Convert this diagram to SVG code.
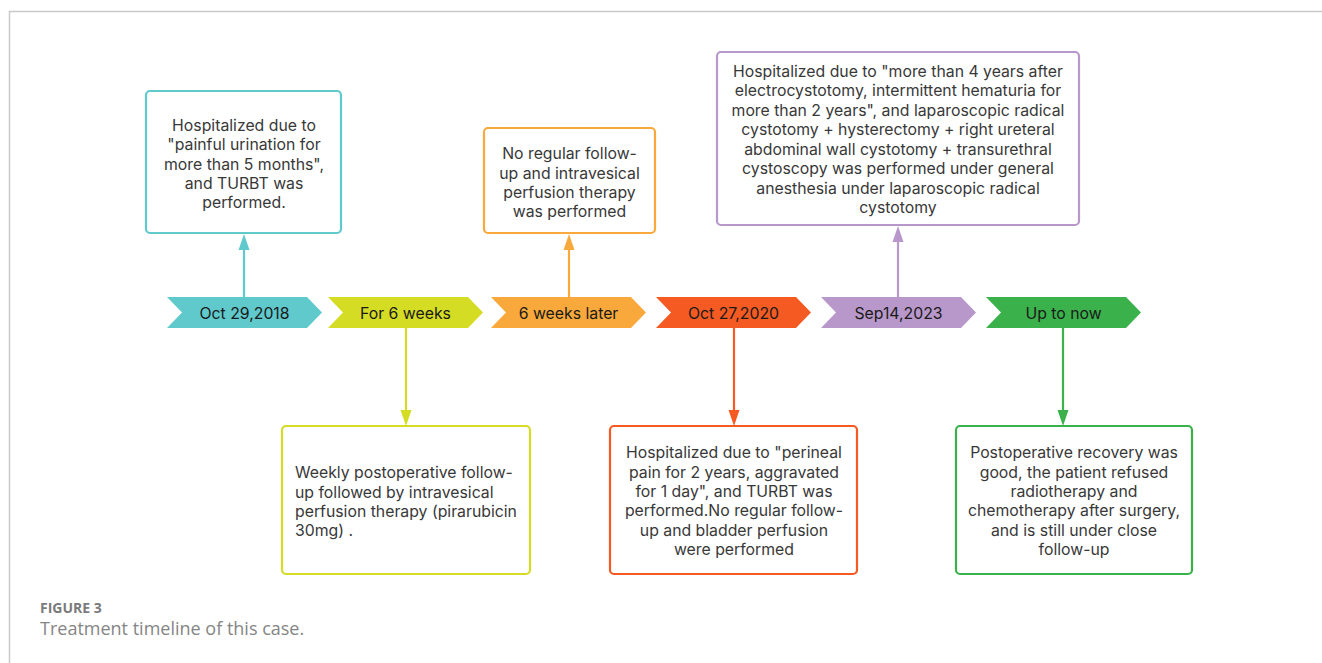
<svg xmlns="http://www.w3.org/2000/svg" width="1322" height="663" viewBox="0 0 1322 663">
<defs>
<style>
.frame{fill:none;stroke:#c9c9c9;stroke-width:1.5}
.box{fill:#fff;stroke-width:2.2}
.bt{font-family:Inter,"Noto Sans","DejaVu Sans",sans-serif;font-size:15.8px;fill:#383838;text-anchor:middle}
.bl{text-anchor:start}
.ct{font-family:Inter,"Noto Sans","DejaVu Sans",sans-serif;font-size:15.8px;fill:#1a1a1a;text-anchor:middle}
.conn line{stroke-width:2.2}
.cap1{font-family:"Open Sans","Noto Sans",sans-serif;font-size:14px;font-weight:bold;fill:#7a7a7a}
.cap2{font-family:"Open Sans","Noto Sans",sans-serif;font-size:18px;fill:#858585}
</style>
</defs>
<rect width="1322" height="663" fill="#fff"/>
<path class="frame" d="M9.5,663 V11.5 H1322"/>

<g id="chevrons">
<g id="c1"><polygon points="167,297 307,297 322,312.5 307,328 167,328 182,312.5" fill="#5FC9CC"/><text class="ct" x="244.5" y="318.5">Oct 29,2018</text></g>
<g id="c2"><polygon points="328,297 468,297 483,312.5 468,328 328,328 343,312.5" fill="#D5DC24"/><text class="ct" x="405.5" y="318.5">For 6 weeks</text></g>
<g id="c3"><polygon points="491,297 631,297 646,312.5 631,328 491,328 506,312.5" fill="#F9A93B"/><text class="ct" x="568.5" y="318.5">6 weeks later</text></g>
<g id="c4"><polygon points="656,297 796,297 811,312.5 796,328 656,328 671,312.5" fill="#F45A22"/><text class="ct" x="733.5" y="318.5">Oct 27,2020</text></g>
<g id="c5"><polygon points="821,297 961,297 976,312.5 961,328 821,328 836,312.5" fill="#B898CA"/><text class="ct" x="898.5" y="318.5">Sep14,2023</text></g>
<g id="c6"><polygon points="986,297 1126,297 1141,312.5 1126,328 986,328 1001,312.5" fill="#3BB14B"/><text class="ct" x="1063.5" y="318.5">Up to now</text></g>
</g>

<g id="connectors" class="conn">
<line x1="244" y1="297" x2="244" y2="248" stroke="#5FC9CC"/><polygon points="244,234 238.5,250 249.5,250" fill="#5FC9CC"/>
<line x1="406" y1="328" x2="406" y2="412" stroke="#D5DC24"/><polygon points="406,426 400.5,410 411.5,410" fill="#D5DC24"/>
<line x1="569" y1="297" x2="569" y2="248" stroke="#F9A93B"/><polygon points="569,234 563.5,250 574.5,250" fill="#F9A93B"/>
<line x1="734" y1="328" x2="734" y2="412" stroke="#F45A22"/><polygon points="734,426 728.5,410 739.5,410" fill="#F45A22"/>
<line x1="898" y1="297" x2="898" y2="240" stroke="#B898CA"/><polygon points="898,226 892.5,242 903.5,242" fill="#B898CA"/>
<line x1="1063" y1="328" x2="1063" y2="412" stroke="#3BB14B"/><polygon points="1063,426 1057.5,410 1068.5,410" fill="#3BB14B"/>
</g>

<g id="b1">
<rect class="box" x="146" y="91" width="195" height="142" rx="4" stroke="#5FC9CC"/>
<text class="bt"><tspan x="244" y="130.7">Hospitalized due to</tspan><tspan x="244" y="150.1">"painful urination for</tspan><tspan x="244" y="169.5">more than 5 months",</tspan><tspan x="244" y="188.9">and TURBT was</tspan><tspan x="244" y="208.3">performed.</tspan></text>
</g>
<g id="b3">
<rect class="box" x="484" y="128" width="171" height="105" rx="4" stroke="#F9A93B"/>
<text class="bt"><tspan x="569.5" y="159.3">No regular follow-</tspan><tspan x="569.5" y="178.5">up and intravesical</tspan><tspan x="569.5" y="197.6">perfusion therapy</tspan><tspan x="569.5" y="216.8">was performed</tspan></text>
</g>
<g id="b5">
<rect class="box" x="717" y="52" width="362" height="173" rx="4" stroke="#B898CA"/>
<text class="bt"><tspan x="898" y="76.7">Hospitalized due to "more than 4 years after</tspan><tspan x="898" y="96.2">electrocystotomy, intermittent hematuria for</tspan><tspan x="898" y="115.7">more than 2 years", and laparoscopic radical</tspan><tspan x="898" y="135.2">cystotomy + hysterectomy + right ureteral</tspan><tspan x="898" y="154.7">abdominal wall cystotomy + transurethral</tspan><tspan x="898" y="174.2">cystoscopy was performed under general</tspan><tspan x="898" y="193.7">anesthesia under laparoscopic radical</tspan><tspan x="898" y="213.2">cystotomy</tspan></text>
</g>
<g id="b2">
<rect class="box" x="282" y="426" width="248" height="148" rx="4" stroke="#D5DC24"/>
<text class="bt bl"><tspan x="295" y="478.3">Weekly postoperative follow-</tspan><tspan x="295" y="497.7">up followed by intravesical</tspan><tspan x="295" y="517">perfusion therapy (pirarubicin</tspan><tspan x="295" y="536.4">30mg) .</tspan></text>
</g>
<g id="b4">
<rect class="box" x="610" y="426" width="247" height="148" rx="4" stroke="#F45A22"/>
<text class="bt"><tspan x="734" y="458.3">Hospitalized due to "perineal</tspan><tspan x="734" y="477.6">pain for 2 years, aggravated</tspan><tspan x="734" y="497">for 1 day", and TURBT was</tspan><tspan x="734" y="516.3">performed.No regular follow-</tspan><tspan x="734" y="535.7">up and bladder perfusion</tspan><tspan x="734" y="555">were performed</tspan></text>
</g>
<g id="b6">
<rect class="box" x="956" y="426" width="236" height="148" rx="4" stroke="#3BB14B"/>
<text class="bt"><tspan x="1074" y="458.3">Postoperative recovery was</tspan><tspan x="1074" y="477.6">good, the patient refused</tspan><tspan x="1074" y="497">radiotherapy and</tspan><tspan x="1074" y="516.3">chemotherapy after surgery,</tspan><tspan x="1074" y="535.7">and is still under close</tspan><tspan x="1074" y="555">follow-up</tspan></text>
</g>

<g id="caption">
<text class="cap1" x="40" y="613">FIGURE 3</text>
<text class="cap2" x="40" y="635">Treatment timeline of this case.</text>
</g>
</svg>
